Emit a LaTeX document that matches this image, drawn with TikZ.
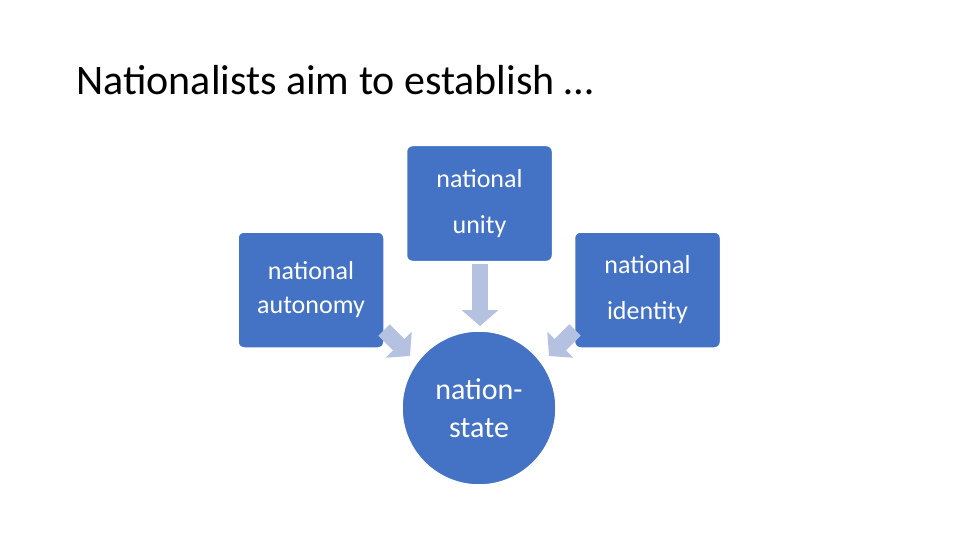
\documentclass[tikz,border=0pt]{standalone}
\usepackage{fontspec}
\setmainfont{Carlito}
\usetikzlibrary{positioning}
\usetikzlibrary{arrows.meta}
\definecolor{boxblue}{HTML}{4472C4}
\definecolor{arrowblue}{HTML}{B4C1E1}
\tikzset{box/.style={draw=white,line width=1.5pt,fill=boxblue,text=white,rounded corners=6pt,minimum width=146pt,minimum height=116pt,align=center,font=\fontsize{26}{46}\selectfont},
blockarrow/.style={draw=arrowblue,line width=16pt,-{Triangle[length=16pt,width=36pt]}}}
\begin{document}
\begin{tikzpicture}[x=1pt,y=-1pt]
\useasboundingbox (0,0) rectangle (960,540);
\node[anchor=base west,font=\fontsize{42}{48}\selectfont] (title) at (73,95) {Nationalists aim to establish \dots};
\node[box] (unity) at (479.5,203.5) {national\\unity};
\node[box,font=\fontsize{26}{34}\selectfont] (autonomy) at (311,290) {national\\autonomy};
\node[box] (identity) at (647.5,290) {national\\identity};
\node[circle,draw=white,line width=1.5pt,fill=boxblue,text=white,minimum size=154pt,align=center,font=\fontsize{30}{38}\selectfont] (state) at (479,408) {nation-\\state};
\draw[blockarrow] (480,264) -- (480,326);
\draw[blockarrow] (384,330) -- (410,356);
\draw[blockarrow] (575,330) -- (549,356);
\end{tikzpicture}
\end{document}
